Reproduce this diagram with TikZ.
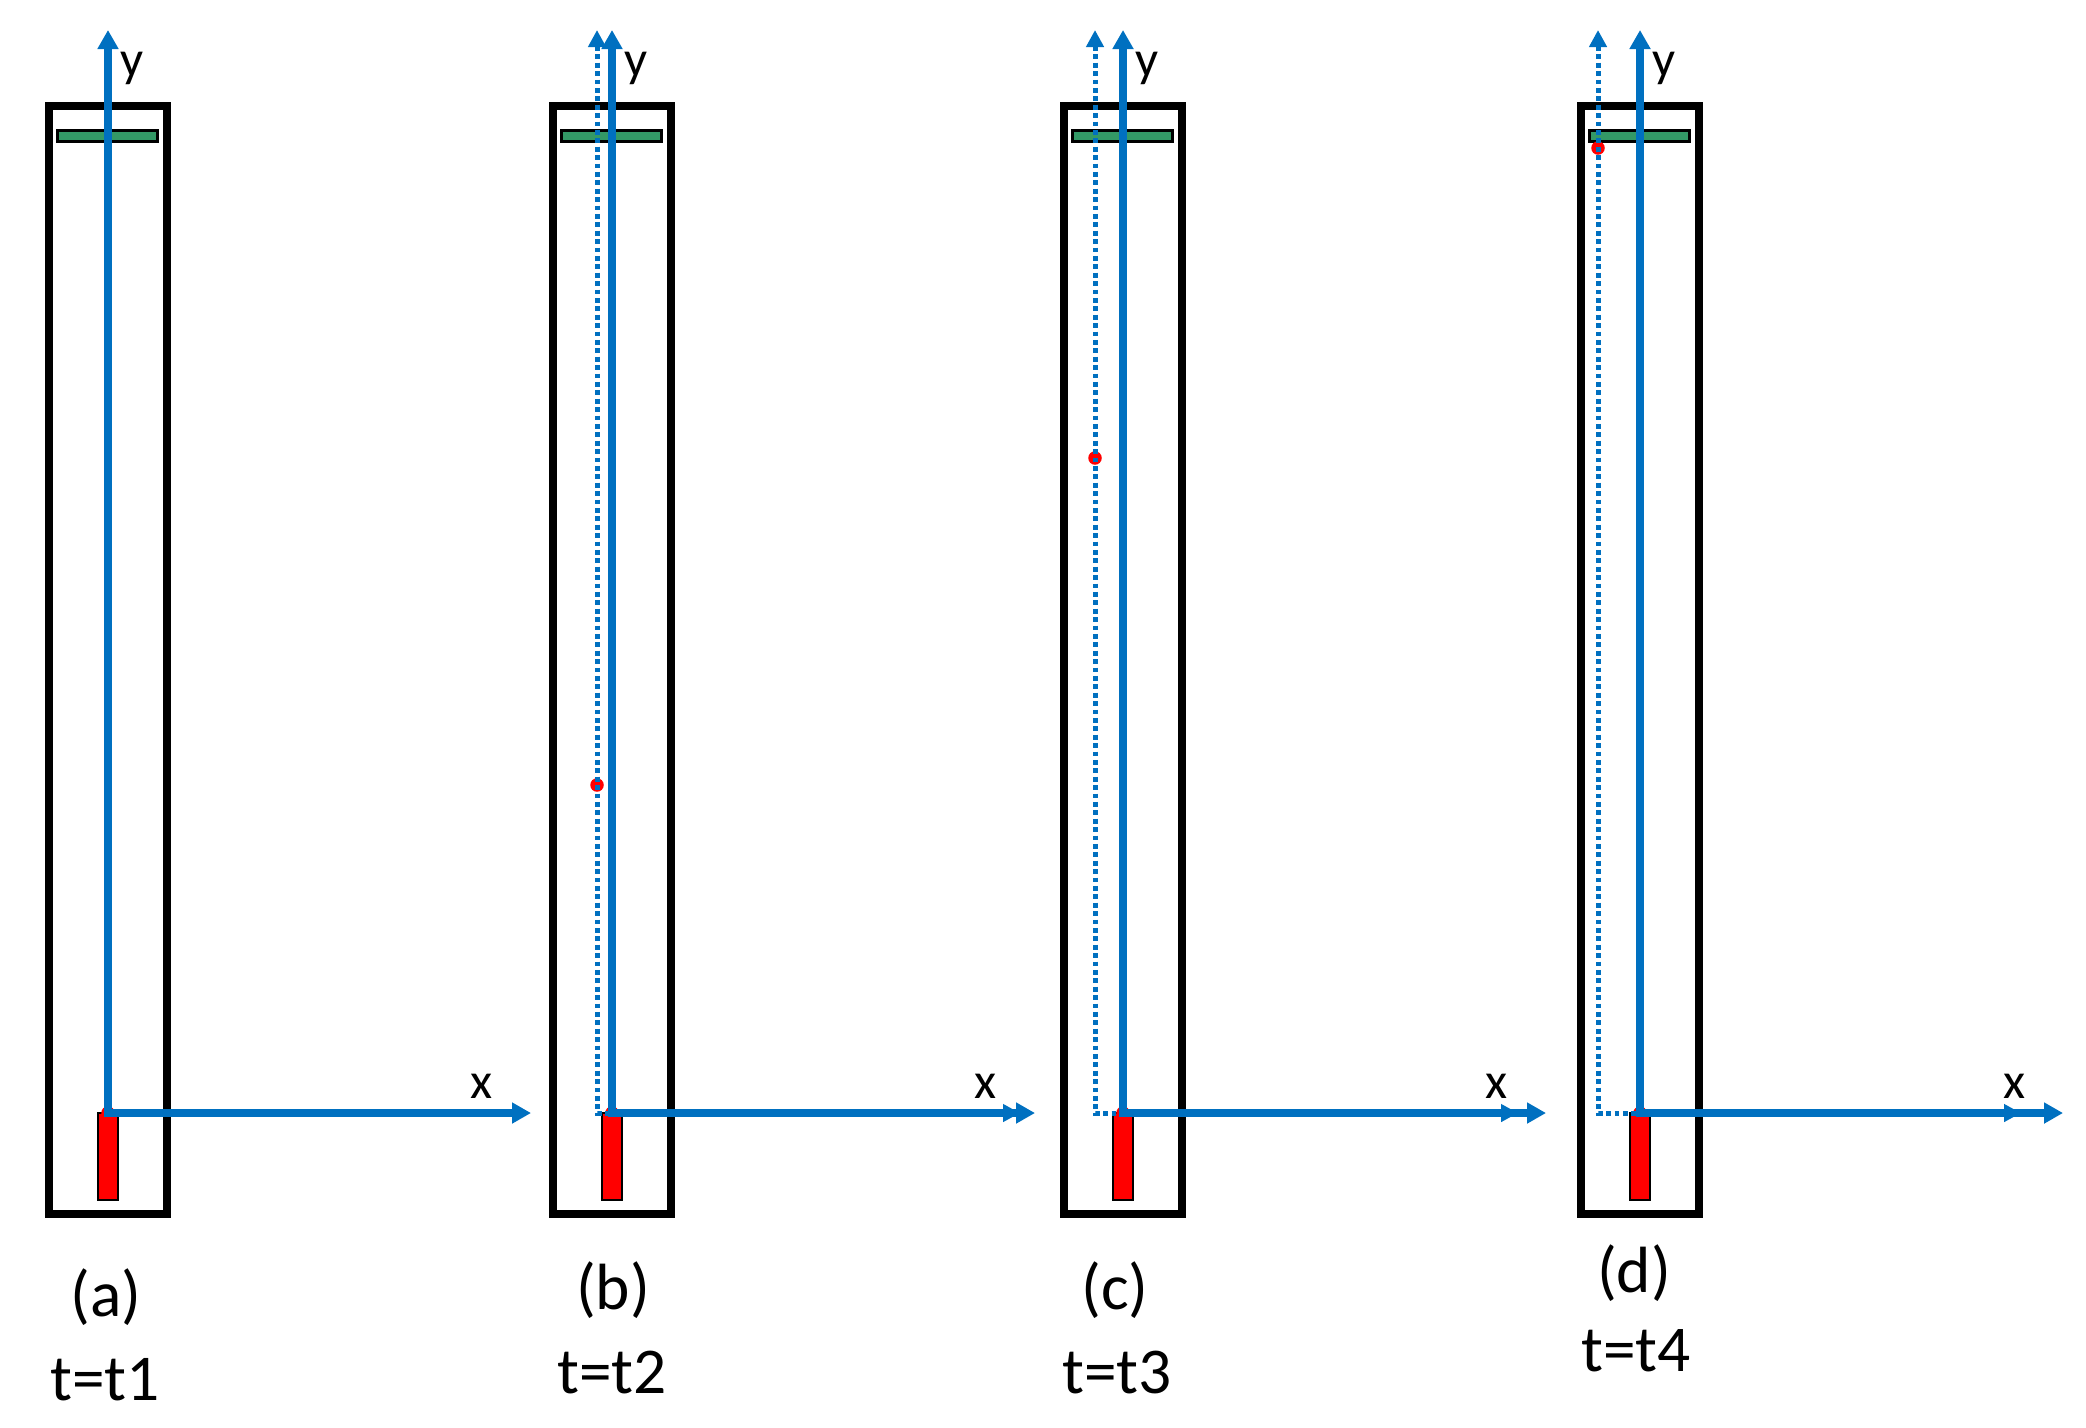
\documentclass[tikz,border=0pt]{standalone}
\usepackage{fontspec}
\setmainfont{Carlito}
\usetikzlibrary{arrows.meta}
\definecolor{axblue}{RGB}{0,112,192}
\definecolor{plategreen}{RGB}{51,153,102}
\tikzset{
	tube/.style={line width=0.77mm},
	plate/.style={draw, line width=0.3mm, fill=plategreen},
	rod/.style={draw, line width=0.25mm, fill=red},
	particle/.style={circle, fill=red, inner sep=0pt, minimum size=1.35mm},
	axis/.style={draw=axblue, line width=0.72mm, {Triangle[length=1.9mm,width=2mm]}-{Triangle[length=1.9mm,width=2mm]}},
	movedaxis/.style={draw=axblue, line width=0.5mm, dash pattern=on 0.48mm off 0.36mm, {Triangle[length=1.7mm,width=1.7mm]}-{Triangle[length=1.7mm,width=1.7mm]}},
	axlabel/.style={font=\fontsize{14.5}{17}\selectfont, anchor=base, inner sep=0pt},
	panel/.style={font=\fontsize{18.6}{22}\selectfont, inner sep=0pt}
}
\begin{document}
\begin{tikzpicture}[x=0.1mm, y=-0.1mm]
	\useasboundingbox (0, 0) rectangle (2086, 1427);
	% (a)
	\draw[tube] (49, 106) rectangle (167, 1214);
	\draw[plate] (57, 130) rectangle (157, 141);
	\draw[rod] (98, 1113) rectangle (118, 1200);
	\node[particle] (ma) at (108, 1113) {};
	\coordinate (oa) at (108, 1113);
	\coordinate (ya) at (108, 30);
	\coordinate (xa) at (531, 1113);
	\draw[axis] (ya) -- (oa) -- (xa);
	\node[axlabel] (yla) at (132, 76) {y};
	\node[axlabel] (xla) at (482, 1098) {x};
	\node[panel] (la) at (106, 1297) {(a)};
	\node[panel, anchor=base] (ta) at (105, 1400) {t=t1};
	% (b)
	\draw[tube] (553, 106) rectangle (671, 1214);
	\draw[plate] (561, 130) rectangle (661, 141);
	\draw[rod] (602, 1113) rectangle (622, 1200);
	\node[particle] (ob) at (612, 1113) {};
	\node[particle] (mb) at (597, 785) {};
	\coordinate (pb) at (597, 1113);
	\coordinate (qb) at (597, 30);
	\coordinate (rb) at (1020, 1113);
	\draw[movedaxis] (qb) -- (pb) -- (rb);
	\coordinate (sb) at (612, 1113);
	\coordinate (yb) at (612, 30);
	\coordinate (xb) at (1035, 1113);
	\draw[axis] (yb) -- (sb) -- (xb);
	\node[axlabel] (ylb) at (636, 76) {y};
	\node[axlabel] (xlb) at (986, 1098) {x};
	\node[panel] (lb) at (613, 1290) {(b)};
	\node[panel, anchor=base] (tb) at (612, 1393) {t=t2};
	% (c)
	\draw[tube] (1064, 106) rectangle (1182, 1214);
	\draw[plate] (1072, 130) rectangle (1172, 141);
	\draw[rod] (1113, 1113) rectangle (1133, 1200);
	\node[particle] (oc) at (1123, 1113) {};
	\node[particle] (mc) at (1095, 458) {};
	\coordinate (pc) at (1095, 1113);
	\coordinate (qc) at (1095, 30);
	\coordinate (rc) at (1518, 1113);
	\draw[movedaxis] (qc) -- (pc) -- (rc);
	\coordinate (sc) at (1123, 1113);
	\coordinate (yc) at (1123, 30);
	\coordinate (xc) at (1546, 1113);
	\draw[axis] (yc) -- (sc) -- (xc);
	\node[axlabel] (ylc) at (1147, 76) {y};
	\node[axlabel] (xlc) at (1497, 1098) {x};
	\node[panel] (lc) at (1115, 1290) {(c)};
	\node[panel, anchor=base] (tc) at (1117, 1393) {t=t3};
	% (d)
	\draw[tube] (1581, 106) rectangle (1699, 1214);
	\draw[plate] (1589, 130) rectangle (1689, 141);
	\draw[rod] (1630, 1113) rectangle (1650, 1200);
	\node[particle] (od) at (1640, 1113) {};
	\node[particle] (md) at (1598, 148) {};
	\coordinate (pd) at (1598, 1113);
	\coordinate (qd) at (1598, 30);
	\coordinate (rd) at (2021, 1113);
	\draw[movedaxis] (qd) -- (pd) -- (rd);
	\coordinate (sd) at (1640, 1113);
	\coordinate (yd) at (1640, 30);
	\coordinate (xd) at (2063, 1113);
	\draw[axis] (yd) -- (sd) -- (xd);
	\node[axlabel] (yld) at (1664, 76) {y};
	\node[axlabel] (xld) at (2014, 1098) {x};
	\node[panel] (ld) at (1634, 1273) {(d)};
	\node[panel, anchor=base] (td) at (1636, 1371) {t=t4};
\end{tikzpicture}
\end{document}
